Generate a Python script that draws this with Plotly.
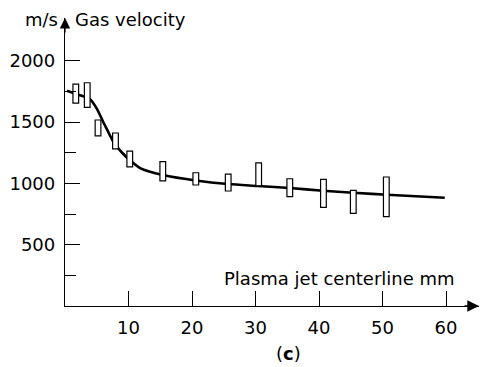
import plotly.graph_objects as go

# Smooth fitted curve
curve_x = [0.3, 2, 3.9, 5, 6, 7, 7.6, 9, 10.2, 12, 15.4, 20.8, 25.7, 30.4, 35.4, 40.6, 45.4, 50.7, 59.8]
curve_y = [1755, 1725, 1688, 1610, 1503, 1400, 1340, 1250, 1190, 1120, 1068, 1022, 995, 979, 962, 940, 924, 908, 883]

# Measurement ranges (open boxes)
box_x = [1.7, 3.5, 5.2, 7.95, 10.2, 15.4, 20.6, 25.7, 30.5, 35.4, 40.7, 45.4, 50.6]
box_low = [1655, 1620, 1387, 1281, 1134, 1020, 987, 938, 981, 892, 805, 756, 729]
box_high = [1810, 1821, 1517, 1411, 1264, 1177, 1087, 1076, 1168, 1038, 1033, 943, 1052]

x_ticks = [10, 20, 30, 40, 50, 60]
y_ticks = [500, 1000, 1500, 2000]
y_minor = [250, 750, 1250, 1750]

L, R, T, B = 65, 1, 18, 61
W, H = 480, 367
pw, ph = W - L - R, H - T - B
XR = [0, pw / 6.35]
YR = [0, ph / 61.3 * 500]
FONT = "DejaVu Sans, Verdana, sans-serif"
FS = 18

fig = go.Figure()
fig.add_trace(go.Scatter(x=curve_x, y=curve_y, mode="lines",
                         line=dict(color="black", width=2.6, shape="spline", smoothing=0.8),
                         xaxis="x", yaxis="y", hoverinfo="skip"))
fig.add_trace(go.Bar(x=box_x, y=[h - l for h, l in zip(box_high, box_low)], base=box_low,
                     width=0.9, marker=dict(color="white", line=dict(color="black", width=1.2)),
                     xaxis="x2", yaxis="y2", hoverinfo="skip"))

axis_common = dict(showgrid=False, zeroline=False, ticks="inside", tickcolor="black",
                   tickwidth=1.2, ticklen=15, tickfont=dict(family=FONT, size=FS, color="black"))

fig.update_layout(
    width=W, height=H,
    margin=dict(l=L, r=R, t=T, b=B),
    paper_bgcolor="white", plot_bgcolor="white",
    showlegend=False,
    xaxis=dict(range=XR, tickvals=x_ticks, showline=True, linecolor="black", linewidth=1.3,
               ticklabelstandoff=5, **axis_common),
    yaxis=dict(range=YR, tickvals=y_ticks, showline=True, linecolor="black", linewidth=1.3,
               minor=dict(tickvals=y_minor, ticks="inside", ticklen=11, tickcolor="black", tickwidth=1.2),
               ticklabelstandoff=5, **axis_common),
    xaxis2=dict(range=XR, overlaying="x", visible=False),
    yaxis2=dict(range=YR, overlaying="y", visible=False),
    annotations=[
        dict(x=1, y=0, xref="paper", yref="paper", ax=-16, ay=0, showarrow=True,
             arrowhead=2, arrowsize=1.8, arrowwidth=1.3, arrowcolor="black", text=""),
        dict(x=0, y=1, xref="paper", yref="paper", ax=0, ay=16, showarrow=True,
             arrowhead=2, arrowsize=1.6, arrowwidth=1.3, arrowcolor="black", text=""),
        dict(x=60, y=20, xref="paper", yref="paper", text="m/s", showarrow=False,
             xanchor="right", yanchor="middle", font=dict(family=FONT, size=FS, color="black")),
        dict(x=73, y=20, xref="paper", yref="paper", text="Gas velocity", showarrow=False,
             xanchor="left", yanchor="middle", font=dict(family=FONT, size=FS, color="black")),
        dict(x=457, y=278, xref="paper", yref="paper", text="Plasma jet centerline mm", showarrow=False,
             xanchor="right", yanchor="middle", font=dict(family=FONT, size=FS, color="black")),
        dict(x=288, y=353, xref="paper", yref="paper", text="(<b>c</b>)", showarrow=False,
             xanchor="center", yanchor="middle", font=dict(family=FONT, size=FS, color="black")),
    ],
)

# convert pixel positions of text annotations into paper coordinates
for a in fig.layout.annotations[2:]:
    a.x = (a.x - L) / pw
    a.y = (H - B - a.y) / ph

fig.write_html("out.html", config={"displayModeBar": False},
               post_script="document.body.style.margin='0';")
